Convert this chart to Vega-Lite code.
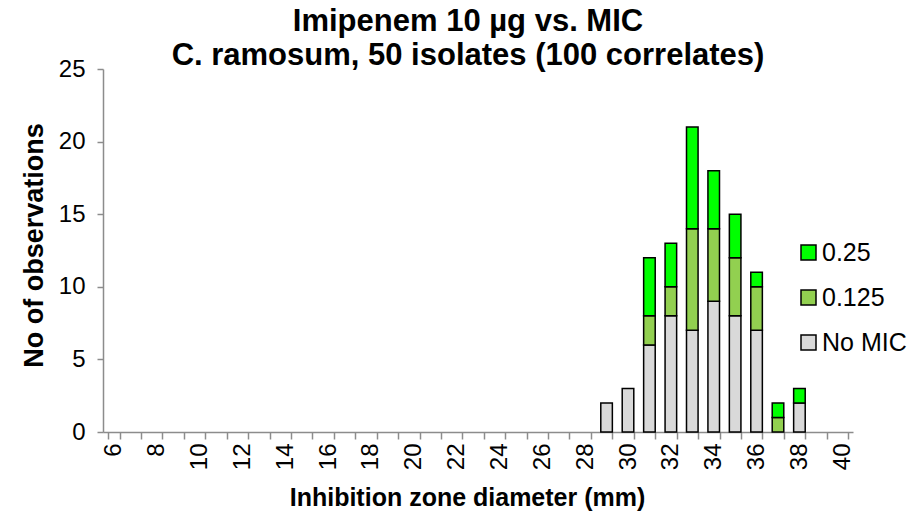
{
  "$schema": "https://vega.github.io/schema/vega-lite/v6.json",
  "width": 750,
  "height": 363,
  "autosize": "none",
  "padding": {"left": 103, "top": 69, "right": 64, "bottom": 88},
  "background": "white",
  "config": {
    "font": "Liberation Sans",
    "view": {"stroke": null}
  },
  "title": {
    "text": "Imipenem 10 µg vs. MIC",
    "subtitle": "C. ramosum, 50 isolates (100 correlates)",
    "anchor": "middle",
    "dx": -10,
    "fontSize": 31,
    "fontWeight": "bold",
    "subtitleFontSize": 31,
    "subtitleFontWeight": "bold",
    "subtitleColor": "black",
    "color": "black",
    "offset": -15,
    "subtitlePadding": 3
  },
  "data": {
    "values": [
      {"zone": 29, "mic": "No MIC", "count": 2},
      {"zone": 30, "mic": "No MIC", "count": 3},
      {"zone": 31, "mic": "No MIC", "count": 6},
      {"zone": 31, "mic": "0.125", "count": 2},
      {"zone": 31, "mic": "0.25", "count": 4},
      {"zone": 32, "mic": "No MIC", "count": 8},
      {"zone": 32, "mic": "0.125", "count": 2},
      {"zone": 32, "mic": "0.25", "count": 3},
      {"zone": 33, "mic": "No MIC", "count": 7},
      {"zone": 33, "mic": "0.125", "count": 7},
      {"zone": 33, "mic": "0.25", "count": 7},
      {"zone": 34, "mic": "No MIC", "count": 9},
      {"zone": 34, "mic": "0.125", "count": 5},
      {"zone": 34, "mic": "0.25", "count": 4},
      {"zone": 35, "mic": "No MIC", "count": 8},
      {"zone": 35, "mic": "0.125", "count": 4},
      {"zone": 35, "mic": "0.25", "count": 3},
      {"zone": 36, "mic": "No MIC", "count": 7},
      {"zone": 36, "mic": "0.125", "count": 3},
      {"zone": 36, "mic": "0.25", "count": 1},
      {"zone": 37, "mic": "0.125", "count": 1},
      {"zone": 37, "mic": "0.25", "count": 1},
      {"zone": 38, "mic": "No MIC", "count": 2},
      {"zone": 38, "mic": "0.25", "count": 1}
    ]
  },
  "transform": [
    {"calculate": "indexof(['No MIC', '0.125', '0.25'], datum.mic)", "as": "stackRank"}
  ],
  "mark": {"type": "bar", "stroke": "black", "strokeWidth": 1.5},
  "encoding": {
    "x": {
      "field": "zone",
      "type": "ordinal",
      "scale": {
        "domain": [6,7,8,9,10,11,12,13,14,15,16,17,18,19,20,21,22,23,24,25,26,27,28,29,30,31,32,33,34,35,36,37,38,39,40],
        "paddingInner": 0.46,
        "paddingOuter": 0.23
      },
      "axis": {
        "title": "Inhibition zone diameter (mm)",
        "titleFontSize": 25,
        "titleFontWeight": "bold",
        "titleColor": "black",
        "titleX": 364,
        "titlePadding": 16,
        "labelAngle": -90,
        "labelAlign": "right",
        "labelBaseline": "middle",
        "labelFontSize": 24,
        "labelColor": "black",
        "labelPadding": 4,
        "labelExpr": "datum.value % 2 == 0 ? datum.label : ''",
        "tickBand": "extent",
        "tickSize": 7,
        "tickColor": "#8c8c8c",
        "tickWidth": 1.5,
        "domainColor": "#8c8c8c",
        "domainWidth": 1.5,
        "grid": false
      }
    },
    "y": {
      "field": "count",
      "type": "quantitative",
      "aggregate": "sum",
      "stack": "zero",
      "scale": {"domain": [0, 25], "nice": false},
      "axis": {
        "title": "No of observations",
        "titleFontSize": 27,
        "titleFontWeight": "bold",
        "titleColor": "black",
        "titlePadding": 10,
        "titleY": 176,
        "values": [0, 5, 10, 15, 20, 25],
        "labelFontSize": 24,
        "labelColor": "black",
        "labelPadding": 12,
        "tickSize": 6,
        "tickColor": "#8c8c8c",
        "tickWidth": 1.5,
        "domainColor": "#8c8c8c",
        "domainWidth": 1.5,
        "grid": false
      }
    },
    "order": {"field": "stackRank", "type": "quantitative", "sort": "ascending"},
    "color": {
      "field": "mic",
      "type": "nominal",
      "scale": {
        "domain": ["0.25", "0.125", "No MIC"],
        "range": ["#00ff00", "#92d050", "#d9d9d9"]
      },
      "legend": {
        "title": null,
        "orient": "none",
        "legendX": 693,
        "legendY": 171,
        "symbolType": "square",
        "symbolSize": 225,
        "symbolStrokeColor": "black",
        "symbolStrokeWidth": 1.5,
        "symbolOpacity": 1,
        "labelFontSize": 25,
        "labelColor": "black",
        "labelOffset": 1,
        "rowPadding": 19
      }
    }
  }
}
